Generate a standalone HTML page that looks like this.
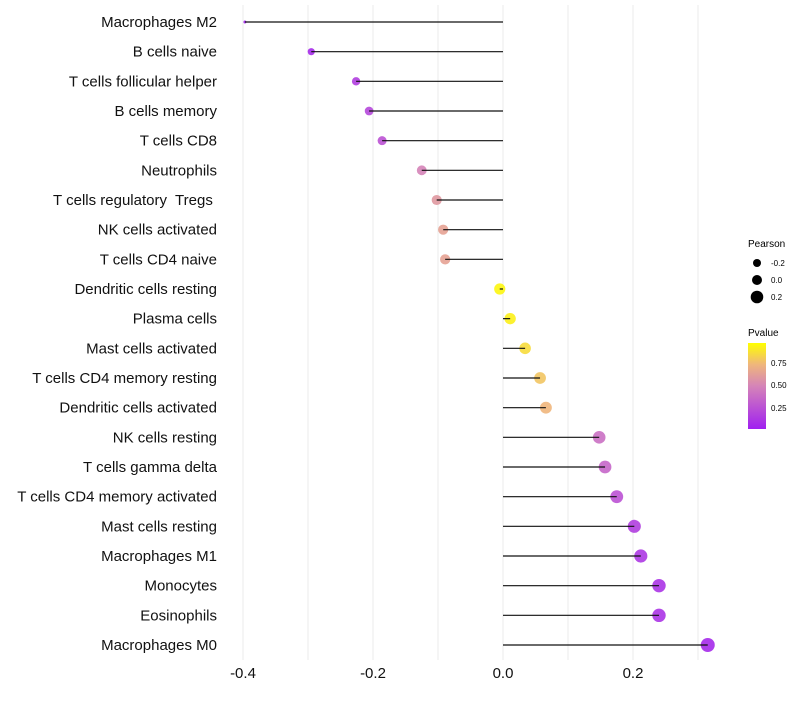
<!DOCTYPE html>
<html><head><meta charset="utf-8"><style>
body{margin:0;background:#fff;font-family:"Liberation Sans",sans-serif}
text{white-space:pre}
</style></head><body>
<svg id="chart" width="800" height="700" xmlns="http://www.w3.org/2000/svg" font-family="Liberation Sans, sans-serif">
<g id="grid"></g>
<g id="marks"></g>
<g id="ylabels"></g>
<g id="xlabels"></g>
<g>
<text x="748" y="247" font-size="10" fill="#000">Pearson</text>
<circle cx="757" cy="263" r="4" fill="#000"/><text x="771" y="266" font-size="8">-0.2</text>
<circle cx="757" cy="280" r="5" fill="#000"/><text x="771" y="283" font-size="8">0.0</text>
<circle cx="757" cy="297" r="6.3" fill="#000"/><text x="771" y="300" font-size="8">0.2</text>
</g>
<g>
<defs><linearGradient id="pg" x1="0" y1="1" x2="0" y2="0">
<stop offset="0" stop-color="#a020f0"/><stop offset="0.5" stop-color="#d584b8"/><stop offset="0.75" stop-color="#efb67c"/><stop offset="1" stop-color="#ffff00"/></linearGradient></defs>
<text x="748" y="336" font-size="10">Pvalue</text>
<rect x="748" y="343" width="18" height="86" fill="url(#pg)"/>
<text x="771" y="366" font-size="8">0.75</text>
<text x="771" y="388" font-size="8">0.50</text>
<text x="771" y="411" font-size="8">0.25</text>
</g>
</svg>
<script>
const categories=["Macrophages M2","B cells naive","T cells follicular helper","B cells memory","T cells CD8","Neutrophils","T cells regulatory  Tregs ","NK cells activated","T cells CD4 naive","Dendritic cells resting","Plasma cells","Mast cells activated","T cells CD4 memory resting","Dendritic cells activated","NK cells resting","T cells gamma delta","T cells CD4 memory activated","Mast cells resting","Macrophages M1","Monocytes","Eosinophils","Macrophages M0"];
const pearson=[-0.397,-0.295,-0.226,-0.206,-0.186,-0.125,-0.102,-0.092,-0.089,-0.005,0.011,0.034,0.057,0.066,0.148,0.157,0.175,0.202,0.212,0.24,0.24,0.315];
const pvalue=[0.02,0.05,0.15,0.2,0.25,0.5,0.6,0.65,0.65,0.97,0.95,0.88,0.8,0.75,0.4,0.35,0.25,0.15,0.12,0.1,0.1,0.05];
const xTicks=[-0.4,-0.2,0.0,0.2];
const xTickLabels=["-0.4","-0.2","0.0","0.2"];
const gridVals=[-0.4,-0.3,-0.2,-0.1,0,0.1,0.2,0.3];
const NS="http://www.w3.org/2000/svg";
const x=v=>503+v*650;
const y=i=>22+i*(623/(categories.length-1));
const pMin=Math.min(...pearson),pMax=Math.max(...pearson);
const r=v=>1.5+5.5*Math.sqrt(Math.max(0,(v-pMin)/(pMax-pMin)));
const stops=[[0,[160,32,240]],[0.5,[213,132,184]],[0.75,[239,182,124]],[1,[255,255,0]]];
function col(p){for(let k=1;k<stops.length;k++){if(p<=stops[k][0]){const a=stops[k-1],b=stops[k],t=(p-a[0])/(b[0]-a[0]);return "rgb("+a[1].map((c,j)=>Math.round(c+(b[1][j]-c)*t)).join(",")+")";}}return "rgb(255,255,0)";}
function mk(t,at,parent){const e=document.createElementNS(NS,t);for(const k in at)e.setAttribute(k,at[k]);parent.appendChild(e);return e;}
const g=document.getElementById('grid'),m=document.getElementById('marks'),yl=document.getElementById('ylabels'),xl=document.getElementById('xlabels');
gridVals.forEach(v=>{const l=mk('line',{x1:x(v),x2:x(v),y1:5,y2:660,stroke:'#ebebeb','stroke-width':1},g);

});
categories.forEach((c,i)=>{
const ci=mk('circle',{cx:x(pearson[i]),cy:y(i),r:r(pearson[i]),fill:col(pvalue[i]),'fill-opacity':0.9},m);


const ln=mk('line',{x1:x(0),x2:x(pearson[i]),y1:y(i),y2:y(i),stroke:'#111','stroke-width':1.2},m);


const t=mk('text',{x:217,y:y(i)+5,'text-anchor':'end','font-size':15,fill:'#111'},yl);t.textContent=c;


});
xTicks.forEach((v,i)=>{const t=mk('text',{x:x(v),y:678,'text-anchor':'middle','font-size':15,fill:'#111'},xl);t.textContent=xTickLabels[i];

});
</script>
</body></html>
